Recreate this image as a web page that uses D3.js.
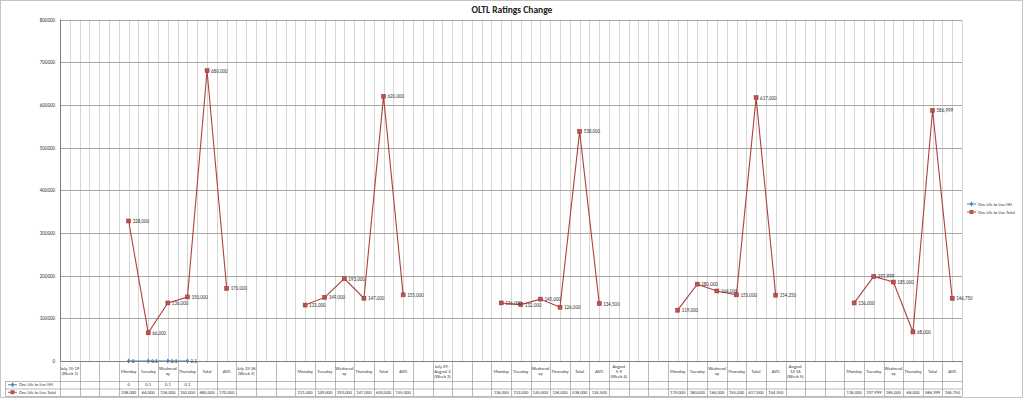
<!DOCTYPE html>
<html>
<head>
<meta charset="utf-8">
<script src="https://cdn.jsdelivr.net/npm/d3@7"></script>
<style>
  body { margin: 0; background: #fff; }
  svg { font-family: Calibri, Carlito, "Liberation Sans", Arial, sans-serif; }
</style>
</head>
<body>
<div id="chart"></div>
<script>
// category columns of the sheet ("\n" = wrapped cell text)
const categories = [
  "July 15-19\n(Week 1)", "", "", "Monday", "Tuesday", "Wednesd\nay", "Thursday", "Total", "AVG",
  "July 22-26\n(Week 2)", "", "", "Monday", "Tuesday", "Wednesd\nay", "Thursday", "Total", "AVG",
  "", "July 29 -\nAugust 2\n(Week 3)", "", "", "Monday", "Tuesday", "Wednesd\nay", "Thursday", "Total", "AVG",
  "August\n5-9\n(Week 4)", "", "", "Monday", "Tuesday", "Wednesd\nay", "Thursday", "Total", "AVG",
  "August\n12-16\n(Week 5)", "", "", "Monday", "Tuesday", "Wednesd\nay", "Thursday", "Total", "AVG"
];

const hhValues = [
  null, null, null, 0, 0.1, 0.1, 0.1, null, null,
  null, null, null, null, null, null, null, null, null,
  null, null, null, null, null, null, null, null, null, null,
  null, null, null, null, null, null, null, null, null,
  null, null, null, null, null, null, null, null, null
];

const totalValues = [
  null, null, null, 328000, 66000, 136000, 150000, 680000, 170000,
  null, null, null, 131000, 149000, 193000, 147000, 620000, 155000,
  null, null, null, null, 136000, 132000, 145000, 126000, 538000, 134500,
  null, null, null, 119000, 180000, 164000, 155000, 617000, 154250,
  null, null, null, 136000, 197999, 185000, 68000, 586999, 146750
];

const seriesNames = ["One Life to Live HH", "One Life to Live Total"];
const yTicks = [0, 100000, 200000, 300000, 400000, 500000, 600000, 700000, 800000];

const width = 1024, height = 399;
const plot = { left: 60, right: 962, top: 19.5, bottom: 361 };
const hhColor = "#4F81BD", totColor = "#C0504D";

const svg = d3.select("#chart").append("svg")
  .attr("width", width).attr("height", height);

svg.append("rect")
  .attr("x", 0.5).attr("y", 0.5)
  .attr("width", width - 2).attr("height", height - 2)
  .attr("fill", "#fff").attr("stroke", "#c4c4c4");

const x = d3.scaleBand()
  .domain(d3.range(categories.length))
  .range([plot.left, plot.right]);

const y = d3.scaleLinear()
  .domain([0, 800000])
  .range([plot.bottom, plot.top]);

const bw = x.bandwidth();

// vertical gridlines (category edges + centres)
const vLines = [];
categories.forEach((c, i) => { vLines.push(x(i)); vLines.push(x(i) + bw / 2); });
vLines.push(plot.right);
svg.append("g").selectAll("line")
  .data(vLines)
  .enter().append("line")
  .attr("x1", d => Math.round(d) + 0.5).attr("x2", d => Math.round(d) + 0.5)
  .attr("y1", plot.top).attr("y2", plot.bottom)
  .attr("stroke", "#d6d6d6").attr("stroke-width", 1);

// horizontal gridlines
svg.append("g").selectAll("line")
  .data(yTicks)
  .enter().append("line")
  .attr("x1", plot.left).attr("x2", plot.right)
  .attr("y1", d => Math.round(y(d)) + 0.5).attr("y2", d => Math.round(y(d)) + 0.5)
  .attr("stroke", d => d === 0 ? "#808080" : "#a6a6a6");

// y axis line
svg.append("line")
  .attr("x1", plot.left + 0.5).attr("x2", plot.left + 0.5)
  .attr("y1", plot.top).attr("y2", plot.bottom)
  .attr("stroke", "#808080");

// y tick labels
svg.append("g").selectAll("text")
  .data(yTicks)
  .enter().append("text")
  .attr("x", plot.left - 5)
  .attr("y", d => y(d) + 2)
  .attr("text-anchor", "end")
  .style("font-size", "5px")
  .attr("fill", "#333")
  .text(d => d);

// title
svg.append("text")
  .attr("x", 512).attr("y", 13)
  .attr("text-anchor", "middle")
  .style("font-size", "9.5px")
  .style("font-weight", "bold")
  .attr("fill", "#222")
  .text("OLTL Ratings Change");

// lines
const line = d3.line()
  .defined(d => d.v != null)
  .x(d => x(d.i) + bw / 2)
  .y(d => y(d.v));

const totPts = totalValues.map((v, i) => ({ i, v }));
const hhPts = hhValues.map((v, i) => ({ i, v }));

svg.append("path")
  .datum(totPts)
  .attr("d", line)
  .attr("fill", "none")
  .attr("stroke", "#B0403D")
  .attr("stroke-width", 1.1);

svg.append("path")
  .datum(hhPts)
  .attr("d", line)
  .attr("fill", "none")
  .attr("stroke", hhColor)
  .attr("stroke-width", 1);

// markers
svg.append("g").selectAll("rect")
  .data(totPts.filter(d => d.v != null))
  .enter().append("rect")
  .attr("x", d => x(d.i) + bw / 2 - 2)
  .attr("y", d => y(d.v) - 2)
  .attr("width", 4).attr("height", 4)
  .attr("fill", totColor)
  .attr("stroke", "#8B3432").attr("stroke-width", 0.5);

const diamond = d3.symbol().type(d3.symbolDiamond).size(8);
svg.append("g").selectAll("path")
  .data(hhPts.filter(d => d.v != null))
  .enter().append("path")
  .attr("transform", d => `translate(${x(d.i) + bw / 2},${y(d.v)})`)
  .attr("d", diamond)
  .attr("fill", hhColor);

// data labels
const fmt = d3.format(",");
svg.append("g").selectAll("text")
  .data(totPts.filter(d => d.v != null))
  .enter().append("text")
  .attr("x", d => x(d.i) + bw / 2 + 4)
  .attr("y", d => y(d.v) + 2)
  .style("font-size", "5px")
  .attr("fill", "#333")
  .text(d => fmt(d.v));

svg.append("g").selectAll("text")
  .data(hhPts.filter(d => d.v != null))
  .enter().append("text")
  .attr("x", d => x(d.i) + bw / 2 + 3)
  .attr("y", d => y(d.v) + 2)
  .style("font-size", "5px")
  .attr("fill", "#333")
  .text(d => d.v);

// data table
const tbl = { top: 361, head: 381, mid: 388.5, bottom: 396, left: 5 };
const tg = svg.append("g");

const colEdges = categories.map((c, i) => x(i)).concat([plot.right]);
tg.selectAll("line.col")
  .data(colEdges)
  .enter().append("line")
  .attr("x1", d => Math.round(d) + 0.5).attr("x2", d => Math.round(d) + 0.5)
  .attr("y1", tbl.top).attr("y2", tbl.bottom)
  .attr("stroke", "#8c8c8c").attr("stroke-width", 0.6);

tg.append("line")
  .attr("x1", tbl.left + 0.5).attr("x2", tbl.left + 0.5)
  .attr("y1", tbl.head).attr("y2", tbl.bottom)
  .attr("stroke", "#8c8c8c").attr("stroke-width", 0.6);

[tbl.head, tbl.mid, tbl.bottom].forEach(yy => {
  tg.append("line")
    .attr("x1", tbl.left).attr("x2", plot.right)
    .attr("y1", yy + 0.5).attr("y2", yy + 0.5)
    .attr("stroke", "#8c8c8c").attr("stroke-width", 0.6);
});

// header cells
categories.forEach((c, i) => {
  if (!c) return;
  const lines = c.split("\n");
  const cy = (tbl.top + tbl.head) / 2 - (lines.length - 1) * 2.6 + 1.8;
  const t = tg.append("text")
    .attr("x", x(i) + bw / 2)
    .attr("text-anchor", "middle")
    .style("font-size", "4.6px")
    .attr("fill", "#333");
  lines.forEach((l, k) => {
    t.append("tspan").attr("x", x(i) + bw / 2).attr("y", cy + k * 5.2).text(l);
  });
});

// value cells
const rows = [
  { name: seriesNames[0], vals: hhValues, color: hhColor, y: (tbl.head + tbl.mid) / 2, f: v => v },
  { name: seriesNames[1], vals: totalValues, color: totColor, y: (tbl.mid + tbl.bottom) / 2, f: fmt }
];

rows.forEach((r, ri) => {
  r.vals.forEach((v, i) => {
    if (v == null) return;
    tg.append("text")
      .attr("x", x(i) + bw / 2)
      .attr("y", r.y + 1.7)
      .attr("text-anchor", "middle")
      .style("font-size", "4.6px")
      .attr("fill", "#333")
      .text(r.f(v));
  });
  // legend key in table
  tg.append("line")
    .attr("x1", tbl.left + 3).attr("x2", tbl.left + 12)
    .attr("y1", r.y).attr("y2", r.y)
    .attr("stroke", r.color).attr("stroke-width", 1);
  if (ri === 0) {
    tg.append("path").attr("transform", `translate(${tbl.left + 7.5},${r.y})`)
      .attr("d", diamond).attr("fill", r.color);
  } else {
    tg.append("rect").attr("x", tbl.left + 5.5).attr("y", r.y - 2)
      .attr("width", 4).attr("height", 4).attr("fill", r.color);
  }
  tg.append("text")
    .attr("x", tbl.left + 14).attr("y", r.y + 1.6)
    .style("font-size", "4.4px")
    .attr("fill", "#333")
    .text(r.name);
});

// legend on the right
const legend = svg.selectAll(".legend")
  .data(seriesNames)
  .enter().append("g")
  .attr("class", "legend")
  .attr("transform", (d, i) => `translate(967, ${204 + i * 8})`);

legend.append("line")
  .attr("x1", 0).attr("x2", 9)
  .attr("y1", 0).attr("y2", 0)
  .attr("stroke", (d, i) => i === 0 ? hhColor : totColor)
  .attr("stroke-width", 1);

legend.filter((d, i) => i === 0).append("path")
  .attr("transform", "translate(4.5,0)")
  .attr("d", diamond).attr("fill", hhColor);

legend.filter((d, i) => i === 1).append("rect")
  .attr("x", 2.5).attr("y", -2).attr("width", 4).attr("height", 4)
  .attr("fill", totColor);

legend.append("text")
  .attr("x", 11).attr("y", 1.6)
  .style("font-size", "4.4px")
  .attr("fill", "#333")
  .text(d => d);
</script>
</body>
</html>
